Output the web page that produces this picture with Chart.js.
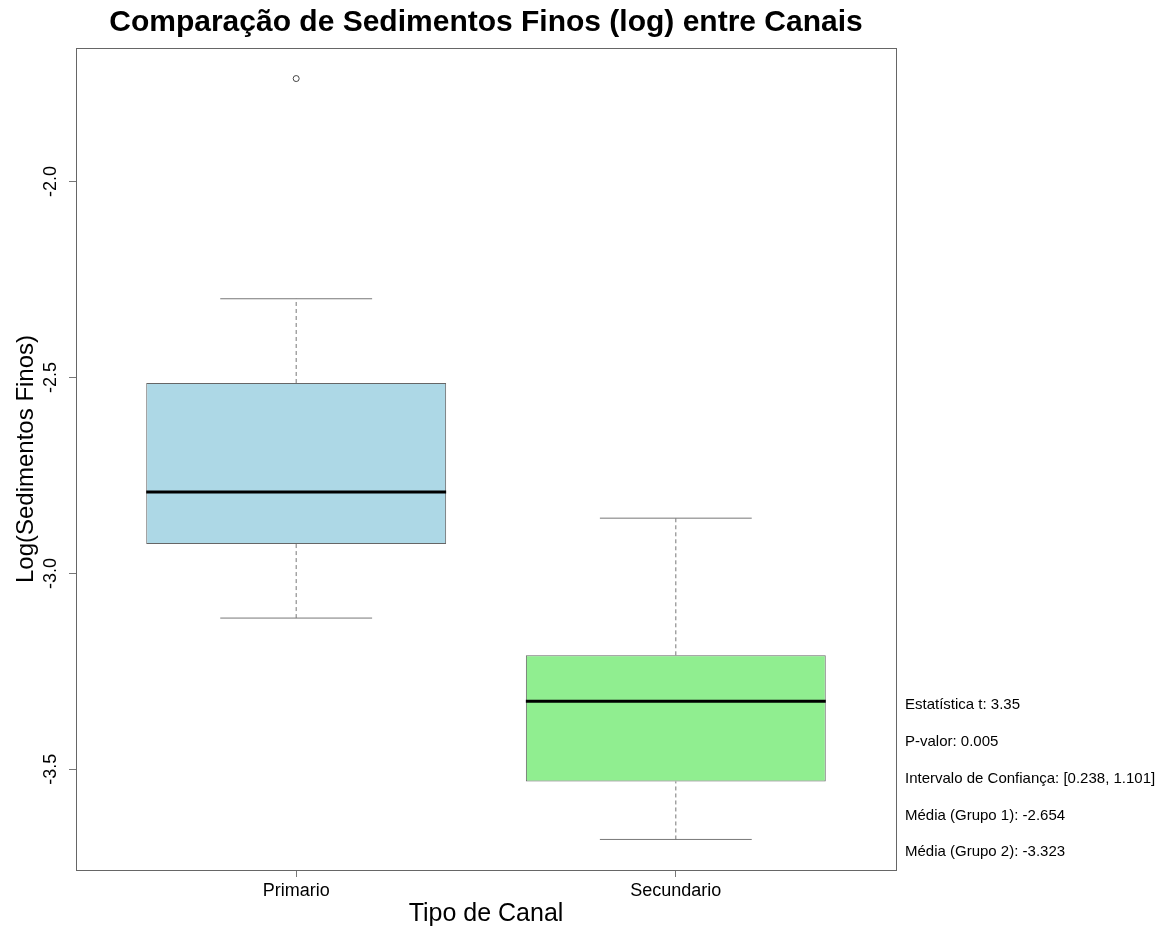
<!DOCTYPE html>
<html lang="pt">
<head>
<meta charset="utf-8">
<title>Sedimentos Finos</title>
<script src="https://cdn.jsdelivr.net/npm/chart.js@4.4.1/dist/chart.umd.min.js"></script>
<style>
  html, body { margin: 0; padding: 0; background: #fff; }
  #wrap { width: 1167px; height: 929px; }
</style>
</head>
<body>
<div id="wrap"><canvas id="box"></canvas></div>
<script>
// five-number summaries per channel type (log scale)
const canais = ['Primario', 'Secundario'];
const whiskerLow = [-3.114, -3.679];
const quartil1 = [-2.925, -3.531];
const mediana = [-2.792, -3.326];
const quartil3 = [-2.514, -3.209];
const whiskerHigh = [-2.299, -2.859];
const outliers = [{ grupo: 1, valor: -1.737 }];
const boxColors = ['#add8e6', '#90ee90'];
const yTicks = [-3.5, -3.0, -2.5, -2.0];

const resultados = [
  'Estatística t: 3.35',
  'P-valor: 0.005',
  'Intervalo de Confiança: [0.238, 1.101]',
  'Média (Grupo 1): -2.654',
  'Média (Grupo 2): -3.323'
];

const FONT = '"Liberation Sans", Arial, Helvetica, sans-serif';
const BOX_W = 0.79;
const CAP_W = 0.4;

function seg(x0, y0, x1, y1, extra) {
  return Object.assign({
    type: 'line',
    data: [{ x: x0, y: y0 }, { x: x1, y: y1 }],
    borderColor: '#777',
    borderWidth: 1,
    pointRadius: 0,
    fill: false,
    order: 0
  }, extra || {});
}

const datasets = [{
  type: 'bar',
  data: canais.map((c, i) => ({ x: i + 1, y: [quartil1[i], quartil3[i]] })),
  backgroundColor: boxColors,
  borderColor: '#666',
  borderWidth: 1,
  borderSkipped: false,
  barPercentage: BOX_W,
  categoryPercentage: 1,
  order: 10
}];

canais.forEach((c, i) => {
  const x = i + 1;
  datasets.push(seg(x, quartil3[i], x, whiskerHigh[i], { borderDash: [4, 3] }));
  datasets.push(seg(x, whiskerLow[i], x, quartil1[i], { borderDash: [4, 3] }));
  datasets.push(seg(x - CAP_W / 2, whiskerHigh[i], x + CAP_W / 2, whiskerHigh[i]));
  datasets.push(seg(x - CAP_W / 2, whiskerLow[i], x + CAP_W / 2, whiskerLow[i]));
  datasets.push(seg(x - BOX_W / 2, mediana[i], x + BOX_W / 2, mediana[i], { borderColor: '#000', borderWidth: 3 }));
});

datasets.push({
  type: 'line',
  data: outliers.map(o => ({ x: o.grupo, y: o.valor })),
  showLine: false,
  pointRadius: 3,
  pointStyle: 'circle',
  pointBackgroundColor: 'rgba(0,0,0,0)',
  pointBorderColor: '#444',
  pointBorderWidth: 1,
  order: 0
});

// frame, rotated y tick labels, main title and test results
const extras = {
  id: 'extras',
  afterDraw(chart) {
    const { ctx, chartArea: a, scales } = chart;
    ctx.save();
    ctx.strokeStyle = '#666';
    ctx.lineWidth = 1;
    ctx.strokeRect(a.left + 0.5, a.top + 0.5, a.right - a.left, a.bottom - a.top);

    ctx.fillStyle = '#000';
    ctx.font = '18px ' + FONT;
    ctx.textAlign = 'center';
    ctx.textBaseline = 'middle';
    yTicks.forEach(v => {
      const py = scales.y.getPixelForValue(v);
      ctx.save();
      ctx.translate(51, py);
      ctx.rotate(-Math.PI / 2);
      ctx.fillText(v.toFixed(1), 0, 0);
      ctx.restore();
    });

    ctx.font = 'bold 30px ' + FONT;
    ctx.fillText('Comparação de Sedimentos Finos (log) entre Canais', (a.left + a.right) / 2, 23);

    ctx.font = '15px ' + FONT;
    ctx.textAlign = 'left';
    resultados.forEach((t, i) => {
      ctx.fillText(t, a.right + 9, 705 + i * 36.8);
    });
    ctx.restore();
  }
};

new Chart(document.getElementById('box'), {
  type: 'bar',
  data: { datasets },
  plugins: [extras],
  options: {
    responsive: true,
    maintainAspectRatio: false,
    animation: false,
    layout: { padding: { top: 48, right: 271, bottom: 0, left: 0 } },
    plugins: { legend: { display: false }, tooltip: { enabled: false } },
    scales: {
      x: {
        type: 'linear',
        min: 0.42,
        max: 2.58,
        offset: false,
        afterBuildTicks: s => { s.ticks = canais.map((c, i) => ({ value: i + 1 })); },
        afterFit: s => { s.height = 59; },
        ticks: {
          color: '#000',
          font: { family: FONT, size: 18 },
          padding: 3,
          callback: v => canais[v - 1]
        },
        grid: { offset: false, drawOnChartArea: false, drawTicks: true, tickLength: 7, color: '#777' },
        border: { display: false },
        title: {
          display: true,
          text: 'Tipo de Canal',
          color: '#000',
          font: { family: FONT, size: 25 },
          padding: { top: 0, bottom: 0 }
        }
      },
      y: {
        type: 'linear',
        min: -3.757,
        max: -1.659,
        afterBuildTicks: s => { s.ticks = yTicks.map(v => ({ value: v })); },
        afterFit: s => { s.width = 76; },
        ticks: { display: false },
        grid: { drawOnChartArea: false, drawTicks: true, tickLength: 7, color: '#777' },
        border: { display: false },
        title: {
          display: true,
          text: 'Log(Sedimentos Finos)',
          color: '#000',
          font: { family: FONT, size: 24 },
          padding: { top: 12, bottom: 0 }
        }
      }
    }
  }
});
</script>
</body>
</html>
